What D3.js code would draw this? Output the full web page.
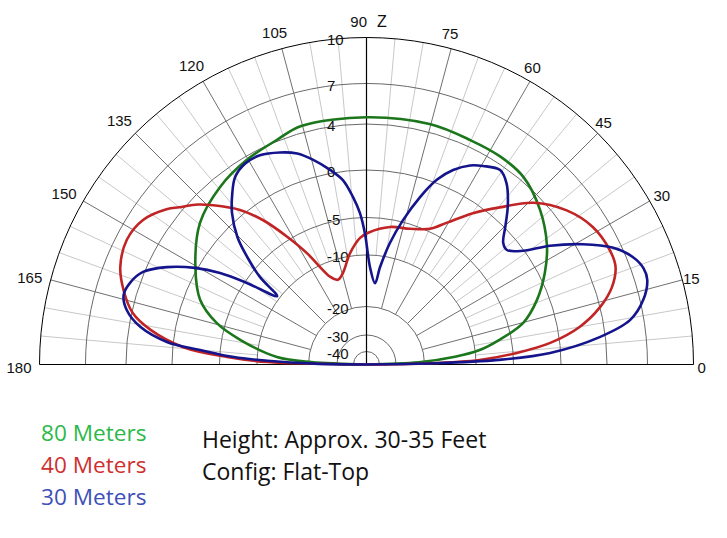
<!DOCTYPE html>
<html>
<head>
<meta charset="utf-8">
<script src="https://cdn.jsdelivr.net/npm/d3@7"></script>
<style>
  html, body { margin: 0; padding: 0; background: #ffffff; }
  svg { display: block; }
</style>
</head>
<body>
<svg id="chart" width="727" height="538"></svg>
<script>
// ---------------- DATA ----------------
const ringTicks = [10, 7, 4, 0, -5, -10, -20, -30, -40];
const angleLabels = [0, 15, 30, 45, 60, 75, 90, 105, 120, 135, 150, 165, 180];
const minorAngles = [5, 10, 20, 25, 35, 40, 50, 55, 65, 70, 80, 85, 95, 100, 110, 115, 125, 130, 140, 145, 155, 160, 170, 175];

const seriesNames = ["80 Meters", "40 Meters", "30 Meters"];

// 80 m (green): elevation angle (deg) and gain (dBi)
const green80Angles = [0, 2.5, 5, 7.3, 10.4, 14.9, 20.7, 27.1, 33.5, 41.7, 50.1, 57.2, 65.2, 75.3, 90, 105.3, 111.7, 120.3, 129.5, 139.6, 150.4, 158.8, 164.5, 169, 175.2, 177.5, 180];
const green80Gains  = [-50, -22, -14, -9.4, -6.7, -3.4, -1.3, 0.5, 1.9, 3.3, 4.3, 4.5, 4.5, 4.6, 4.5, 4.5, 4.1, 3.7, 3.1, 2.1, 0.2, -1.7, -4.1, -7.5, -13.8, -21, -50];

// 40 m (red)
const red40Angles = [0, 1, 2.3, 4.4, 6.7, 10, 13.8, 17.5, 21.4, 25.2, 31.3, 37.6, 44.1, 49.7, 54.9, 60.4, 64.9, 72.2, 80.3, 89, 92.9, 98.4, 104.4, 108.6, 112.6, 115.5, 118.1, 121.9, 125.6, 129.3, 133.9, 136.5, 140, 142, 147.1, 152.5, 158.4, 163, 167.6, 170.9, 174.6, 176.9, 178.6, 180];
const red40Gains  = [-50, -20, -9.5, -4.6, -1.0, 1.9, 4.0, 5.25, 6.0, 6.1, 5.8, 4.9, 3.3, 1.0, -1.0, -3.3, -4.7, -5.6, -6.0, -7.0, -7.7, -9.6, -12.9, -13.9, -12.8, -10.3, -7.8, -4.6, -1.8, 0.45, 2.3, 3.3, 4.3, 4.9, 5.9, 6.2, 5.8, 5.0, 3.9, 2.1, -1.1, -6.0, -12.0, -50];

// 30 m (blue)
const blue30Angles = [0, 1, 2, 3.6, 6.7, 9.6, 13.1, 16.8, 19.2, 22, 25.3, 29.1, 32.9, 36, 39.2, 41.7, 44.8, 48.4, 52.3, 55.5, 59.6, 62.5, 66, 69.1, 72.3, 75.8, 79.1, 82.1, 84, 87.9, 90.7, 92.5, 94.6, 97.3, 100.6, 104.7, 108.2, 112.2, 117, 121.1, 125, 128.1, 131.6, 135.4, 138, 140.6, 142.6, 145.7, 148, 150.6, 154, 157.5, 160.8, 164, 167.2, 170.6, 173.6, 175, 176.8, 177.8, 179, 180];
const blue30Gains  = [-50, -18, -7, -1.1, 3.5, 6.0, 7.2, 7.8, 7.8, 7.4, 6.4, 4.5, 2.1, -0.1, -1.4, -1.2, 0.1, 1.6, 3.0, 3.6, 3.1, 2.6, 1.6, 0.3, -2.0, -4.8, -8.1, -12.2, -15.4, -12.4, -7.1, -4.5, -2.8, -0.9, 0.3, 1.5, 2.4, 3.0, 3.5, 3.5, 3.0, 2.0, 0.7, -1.4, -3.6, -6.2, -9.6, -5.3, -2.3, 0.2, 2.4, 4.1, 4.7, 4.9, 4.4, 3.0, 0.5, -2.9, -6.9, -12, -22, -50];

const infoLines = ["Height: Approx. 30-35 Feet", "Config: Flat-Top"];

// ---------------- LAYOUT ----------------
const cx = 366.5, cy = 364.5, R = 327;
const svg = d3.select("#chart");

const r = d3.scaleLinear()
  .domain([-50, -40, -30, -20, -10, -5, 0, 4, 7, 10])
  .range([0, 13, 29.5, 58, 109.5, 147, 194.5, 240.5, 281, R])
  .clamp(true);

const toRad = a => a * Math.PI / 180;
const px = (a, rad) => cx + rad * Math.cos(toRad(a));
const py = (a, rad) => cy - rad * Math.sin(toRad(a));

const g = svg.append("g");

const halfArc = rad => {
  const p = d3.path();
  p.moveTo(cx + rad, cy);
  p.arc(cx, cy, rad, 0, -Math.PI, true);
  return p.toString();
};

// minor spokes
g.selectAll("line.minor").data(minorAngles).join("line")
  .attr("x1", d => px(d, r(-10))).attr("y1", d => py(d, r(-10)))
  .attr("x2", d => px(d, R)).attr("y2", d => py(d, R))
  .attr("stroke", "#c8c8c8").attr("stroke-width", 1);

// major spokes
g.selectAll("line.major").data(angleLabels.filter(a => a !== 0 && a !== 90 && a !== 180)).join("line")
  .attr("x1", d => px(d, r(-20))).attr("y1", d => py(d, r(-20)))
  .attr("x2", d => px(d, R)).attr("y2", d => py(d, R))
  .attr("stroke", "#707070").attr("stroke-width", 1);

// rings
g.selectAll("path.ring").data(ringTicks).join("path")
  .attr("d", d => halfArc(r(d)))
  .attr("fill", "none")
  .attr("stroke", d => d === 10 ? "#000" : "#6a6a6a")
  .attr("stroke-width", 1);

// axes
g.append("line").attr("x1", cx - R).attr("y1", cy).attr("x2", cx + R).attr("y2", cy)
  .attr("stroke", "#000").attr("stroke-width", 1.2);
g.append("line").attr("x1", cx).attr("y1", cy).attr("x2", cx).attr("y2", cy - R)
  .attr("stroke", "#000").attr("stroke-width", 1.2);

// radial tick labels
const labelFont = "'Liberation Sans', Arial, sans-serif";
g.selectAll("text.rt").data(ringTicks).join("text")
  .attr("x", cx - 39.5)
  .attr("y", d => cy - r(d) + 1.5)
  .attr("dominant-baseline", "central")
  .attr("font-family", labelFont).attr("font-size", 15)
  .attr("fill", "#111")
  .text(d => d);

// angle labels
const angleText = g.selectAll("text.at").data(angleLabels.filter(a => a !== 90)).join("text")
  .attr("font-family", labelFont).attr("font-size", 15).attr("fill", "#111")
  .attr("text-anchor", "middle").attr("dominant-baseline", "central")
  .text(d => d);
angleText.each(function(d) {
  const w = this.getComputedTextLength();
  const c = Math.abs(Math.cos(toRad(d))), s = Math.sin(toRad(d));
  const rho = R + 4 + c * w / 2 + s * 5.5;
  const dx = (d === 0 || d === 30) ? 0 : -4;
  const dy = 3 - 8 * s * s;
  d3.select(this).attr("x", px(d, rho) + dx).attr("y", py(d, rho) + dy);
});
g.append("text").attr("x", cx + 0.5).attr("y", 21)
  .attr("text-anchor", "end").attr("dominant-baseline", "central")
  .attr("font-family", labelFont).attr("font-size", 15).attr("fill", "#111").text("90");
g.append("text").attr("x", cx + 10.5).attr("y", 21)
  .attr("text-anchor", "start").attr("dominant-baseline", "central")
  .attr("font-family", labelFont).attr("font-size", 16).attr("fill", "#111").text("Z");

// pattern curves
const line = d3.lineRadial()
  .angle(d => toRad(90 - d.a))
  .radius(d => r(d.g))
  .curve(d3.curveCatmullRom.alpha(0.5));

const series = [
  { angles: green80Angles, gains: green80Gains, color: "#1c761c" },
  { angles: red40Angles, gains: red40Gains, color: "#c02424" },
  { angles: blue30Angles, gains: blue30Gains, color: "#14148c" }
];

const curves = svg.append("g").attr("transform", `translate(${cx},${cy})`);
series.forEach(s => {
  const pts = s.angles.map((a, i) => ({ a, g: s.gains[i] }));
  curves.append("path")
    .attr("d", line(pts))
    .attr("fill", "none")
    .attr("stroke", s.color)
    .attr("stroke-width", 2.6)
    .attr("stroke-linejoin", "round");
});

// legend
const legendColors = ["#2db84a", "#cf3030", "#4050b8"];
const textFont = "'Open Sans', 'Noto Sans', sans-serif";
svg.selectAll("text.leg").data(seriesNames).join("text")
  .attr("x", 41)
  .attr("y", (d, i) => 441 + i * 32)
  .attr("font-family", textFont).attr("font-size", 22.6)
  .attr("fill", (d, i) => legendColors[i])
  .text(d => d);

svg.selectAll("text.info").data(infoLines).join("text")
  .attr("x", 202)
  .attr("y", (d, i) => 448 + i * 32)
  .attr("font-family", textFont).attr("font-size", 23)
  .attr("fill", "#111")
  .text(d => d);
</script>
</body>
</html>
